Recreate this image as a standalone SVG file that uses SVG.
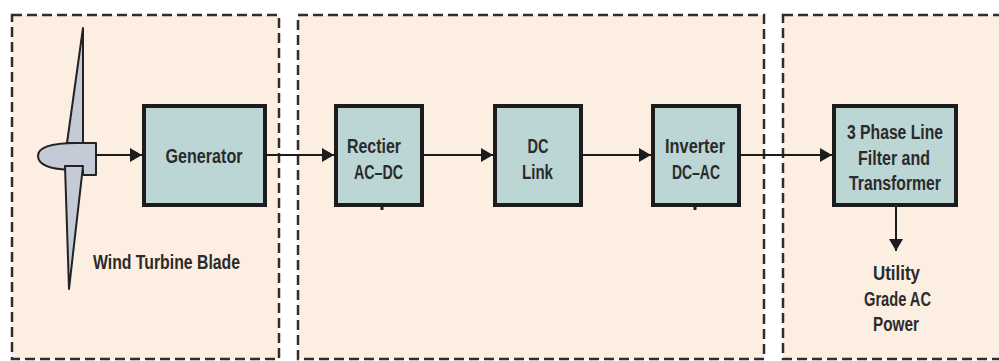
<svg xmlns="http://www.w3.org/2000/svg" width="999" height="361" viewBox="0 0 999 361">
  <style>
    .zone { fill: #fdeee2; stroke: #2e2e2e; stroke-width: 2.5; stroke-dasharray: 10 5; }
    .block { fill: #bcd5d5; stroke: #1c1c1c; stroke-width: 4; }
    .lbl { font-family: "Liberation Sans", Arial, sans-serif; font-weight: bold; font-size: 20px; fill: #2b2b2b; text-anchor: middle; }
    .wire { stroke: #1c1c1c; stroke-width: 2; fill: none; marker-end: url(#head); }
    .blade { fill: #c4cbd6; stroke: #222; stroke-width: 2; stroke-linejoin: round; }
  </style>
  <defs>
    <marker id="head" viewBox="0 0 12 14" refX="12" refY="7" markerWidth="12" markerHeight="14" markerUnits="userSpaceOnUse" orient="auto">
      <path d="M0,0 L12,7 L0,14 Z" fill="#1c1c1c"/>
    </marker>
  </defs>

  <rect width="999" height="361" fill="#ffffff"/>

  <!-- stage zones -->
  <g id="zones">
    <rect class="zone" x="12" y="15" width="267" height="344"/>
    <rect class="zone" x="298" y="15" width="466" height="344"/>
    <rect class="zone" x="783" y="15" width="230" height="344"/>
  </g>

  <!-- wind turbine rotor -->
  <g id="turbine">
    <path class="blade" d="M83,28 L67,143 L83,143 Z"/>
    <path class="blade" d="M96,143 H76 Q38,143 38,156 Q38,169 72,170 H83 V175 H96 Z"/>
    <path class="blade" d="M65,166 L83,166 L69,289 Z"/>
    <text class="lbl" x="166.5" y="269" textLength="147" lengthAdjust="spacingAndGlyphs">Wind Turbine Blade</text>
  </g>

  <g id="generator">
    <rect class="block" x="144" y="106" width="121" height="99"/>
    <text class="lbl" x="204" y="163" textLength="77" lengthAdjust="spacingAndGlyphs">Generator</text>
  </g>

  <g id="rectifier">
    <rect class="block" x="336" y="106" width="86" height="99"/>
    <text class="lbl" x="374" y="153" textLength="54" lengthAdjust="spacingAndGlyphs">Rectier</text>
    <text class="lbl" x="378.5" y="179" textLength="49" lengthAdjust="spacingAndGlyphs">AC–DC</text>
    <line x1="382" y1="207" x2="382" y2="210" stroke="#1c1c1c" stroke-width="3"/>
  </g>

  <g id="dc-link">
    <rect class="block" x="495" y="106" width="86" height="99"/>
    <text class="lbl" x="538" y="153" textLength="21" lengthAdjust="spacingAndGlyphs">DC</text>
    <text class="lbl" x="537.5" y="179" textLength="31" lengthAdjust="spacingAndGlyphs">Link</text>
  </g>

  <g id="inverter">
    <rect class="block" x="653" y="106" width="86" height="99"/>
    <text class="lbl" x="695" y="153" textLength="60" lengthAdjust="spacingAndGlyphs">Inverter</text>
    <text class="lbl" x="696" y="179" textLength="48" lengthAdjust="spacingAndGlyphs">DC–AC</text>
    <line x1="695" y1="207" x2="695" y2="210" stroke="#1c1c1c" stroke-width="3"/>
  </g>

  <g id="filter-transformer">
    <rect class="block" x="834" y="106" width="122" height="99"/>
    <text class="lbl" x="895" y="139" textLength="96" lengthAdjust="spacingAndGlyphs">3 Phase Line</text>
    <text class="lbl" x="894" y="165" textLength="72" lengthAdjust="spacingAndGlyphs">Filter and</text>
    <text class="lbl" x="895" y="190" textLength="92" lengthAdjust="spacingAndGlyphs">Transformer</text>
  </g>

  <g id="utility-output">
    <text class="lbl" x="896.5" y="280" textLength="47" lengthAdjust="spacingAndGlyphs">Utility</text>
    <text class="lbl" x="897.5" y="306" textLength="67" lengthAdjust="spacingAndGlyphs">Grade AC</text>
    <text class="lbl" x="896" y="331" textLength="46" lengthAdjust="spacingAndGlyphs">Power</text>
  </g>

  <!-- power flow -->
  <g id="connectors">
    <line class="wire" x1="96" y1="155" x2="142" y2="155"/>
    <line class="wire" x1="267" y1="155" x2="334" y2="155"/>
    <line class="wire" x1="424" y1="155" x2="493" y2="155"/>
    <line class="wire" x1="583" y1="155" x2="651" y2="155"/>
    <line class="wire" x1="741" y1="155" x2="832" y2="155"/>
    <line class="wire" x1="896" y1="207" x2="896" y2="251"/>
  </g>
</svg>
